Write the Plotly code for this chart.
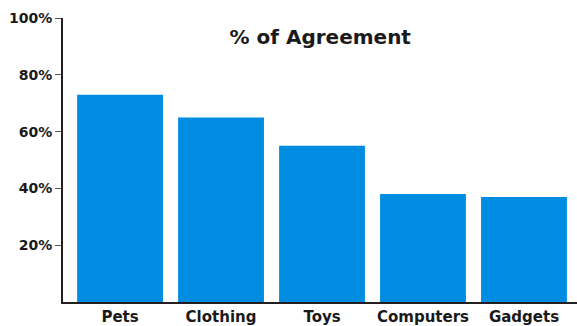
import plotly.graph_objects as go

categories = ["Pets", "Clothing", "Toys", "Computers", "Gadgets"]
agreement = [73, 65, 55, 38, 37]
y_ticks = [20, 40, 60, 80, 100]
y_tick_labels = ["20%", "40%", "60%", "80%", "100%"]

FONT = "DejaVu Sans"
INK = "#1a1a1a"

fig = go.Figure(
    go.Bar(
        x=list(range(len(categories))),
        y=agreement,
        width=0.85,
        marker=dict(color="#008ce0", line=dict(width=0)),
        hoverinfo="skip",
    )
)

fig.update_layout(
    width=577,
    height=326,
    margin=dict(l=63, r=0, t=18, b=20),
    plot_bgcolor="white",
    paper_bgcolor="white",
    showlegend=False,
    font=dict(family=FONT, color=INK),
    title=dict(
        text="<b>% of Agreement</b>",
        x=0.555,
        xanchor="center",
        y=0.885,
        yanchor="middle",
        font=dict(family=FONT, size=20, color=INK),
    ),
)

fig.update_xaxes(
    range=[-0.565, 4.525],
    tickvals=list(range(len(categories))),
    ticktext=[f"<b>{c}</b>" for c in categories],
    tickfont=dict(family=FONT, size=15, color=INK),
    showgrid=False,
    zeroline=False,
    showline=True,
    linecolor="#231f20",
    linewidth=2,
    ticks="",
    ticklabelstandoff=0,
)

fig.update_yaxes(
    range=[0, 100],
    tickvals=y_ticks,
    ticktext=[f"<b>{t}</b>" for t in y_tick_labels],
    tickfont=dict(family=FONT, size=14, color=INK),
    showgrid=False,
    zeroline=False,
    showline=True,
    linecolor="#231f20",
    linewidth=2,
    ticks="outside",
    ticklen=6,
    tickwidth=1,
    tickcolor="#555555",
)

fig.write_html("out.html")
